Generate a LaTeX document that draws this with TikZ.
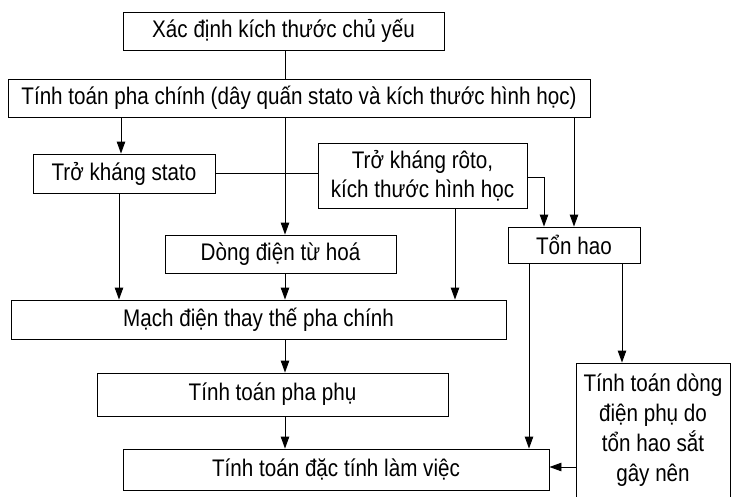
\documentclass[tikz,border=0pt]{standalone}
\usepackage{fontspec}
\setmainfont{Liberation Sans}[FakeStretch=0.86]
\usetikzlibrary{arrows.meta}
\begin{document}
\begin{tikzpicture}[x=1pt,y=-1pt,
  box/.style={draw,line width=0.9pt,inner sep=0pt,align=center,
    font=\fontsize{24}{29}\selectfont},
  link/.style={line width=0.9pt},
  arr/.style={line width=0.9pt,-{Triangle[length=12pt,width=8.5pt]}}]
\useasboundingbox (0,0) rectangle (731,496);
% boxes
\node[box,minimum width=321pt,minimum height=38pt] (b1) at (283.5,31) {Xác định kích thước chủ yếu};
\node[box,minimum width=582pt,minimum height=38pt] (b2) at (299,98) {Tính toán pha chính (dây quấn stato và kích thước hình học)};
\node[box,minimum width=182pt,minimum height=39pt] (stato) at (124,173.5) {Trở kháng stato};
\node[box,minimum width=209pt,minimum height=65pt] (rotor) at (422.5,175.5) {Trở kháng rôto,\\kích thước hình học};
\node[box,minimum width=231pt,minimum height=38pt] (dong) at (280.5,254) {Dòng điện từ hoá};
\node[box,minimum width=132pt,minimum height=36pt] (tonhao) at (574,245) {Tổn hao};
\node[box,minimum width=495pt,minimum height=39pt] (mach) at (258.5,319.5) {Mạch điện thay thế pha chính};
\node[box,minimum width=351pt,minimum height=43pt] (phaphu) at (272.5,394.5) {Tính toán pha phụ};
\node[box,minimum width=426pt,minimum height=41pt] (dactinh) at (336,469.5) {Tính toán đặc tính làm việc};
\node[box,minimum width=154pt,minimum height=134pt,
  font=\fontsize{24}{30}\selectfont] (dongphu) at (653,430) {Tính toán dòng\\điện phụ do\\tổn hao sắt\\gây nên};
% connectors
\draw[link] (b1.south -| 285,0) -- (b2.north -| 285,0);
\draw[arr] (b2.south -| 121,0) -- (stato.north -| 121,0);
\draw[arr] (b2.south -| 285,0) -- (dong.north -| 285,0);
\draw[arr] (b2.south -| 574,0) -- (tonhao.north -| 574,0);
\draw[link] (stato.east |- 0,173) -- (rotor.west |- 0,173);
\draw[arr] (rotor.east |- 0,177) -| (tonhao.north -| 544,0);
\draw[arr] (stato.south -| 119,0) -- (mach.north -| 119,0);
\draw[arr] (dong.south -| 285,0) -- (mach.north -| 285,0);
\draw[arr] (rotor.south -| 455,0) -- (mach.north -| 455,0);
\draw[arr] (mach.south -| 285,0) -- (phaphu.north -| 285,0);
\draw[arr] (phaphu.south -| 285,0) -- (dactinh.north -| 285,0);
\draw[arr] (tonhao.south -| 529,0) -- (dactinh.north -| 529,0);
\draw[arr] (tonhao.south -| 622,0) -- (dongphu.north -| 622,0);
\draw[arr] (dongphu.west |- 0,467) -- (dactinh.east |- 0,467);
\end{tikzpicture}
\end{document}
